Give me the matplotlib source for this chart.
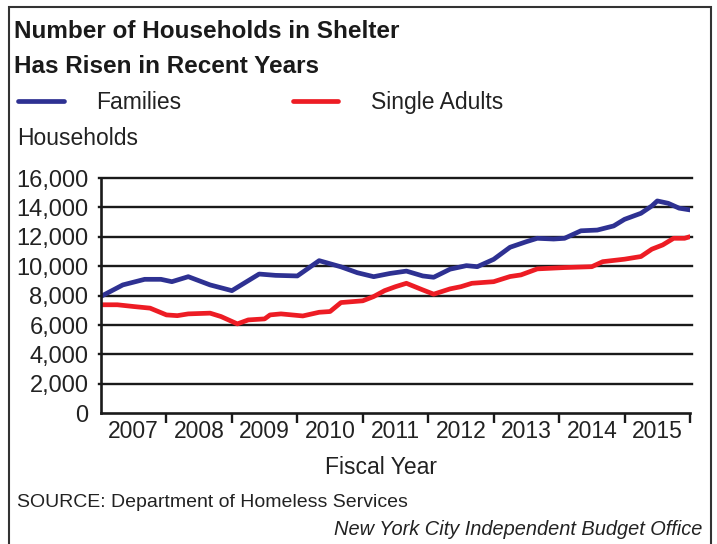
import matplotlib
matplotlib.use("Agg")
import matplotlib.pyplot as plt
from matplotlib.patches import Rectangle
import numpy as np

plt.rcParams['font.family'] = ['Liberation Sans', 'DejaVu Sans']

# month offsets from start of FY2007 (July 2006)
fam_months = [0, 4, 8, 11, 13, 16, 20, 24, 29, 32, 36, 40, 44, 47, 50, 53, 56, 59, 61,
              64, 67, 69, 72, 75, 78, 80, 83, 85, 88, 91, 94, 96, 99, 101, 102, 104, 106, 108]
families = [7950, 8730, 9110, 9110, 8950, 9290, 8730, 8340, 9470, 9380, 9340, 10380, 9960,
            9560, 9290, 9510, 9670, 9340, 9250, 9800, 10040, 9970, 10470, 11290, 11670, 11900,
            11850, 11900, 12410, 12460, 12740, 13190, 13600, 14100, 14440, 14280, 13950, 13830]

adu_months = [0, 3, 6, 9, 12, 14, 16, 20, 22, 25, 27, 30, 31, 33, 37, 40, 42, 44, 48, 50, 52,
              54, 56, 59, 61, 64, 66, 68, 72, 75, 77, 80, 85, 90, 92, 96, 99, 101, 103, 105, 107, 108]
single_adults = [7380, 7380, 7260, 7150, 6690, 6640, 6760, 6810, 6580, 6080, 6350, 6420, 6690,
                 6760, 6620, 6870, 6920, 7530, 7650, 7940, 8340, 8610, 8840, 8390, 8100, 8460,
                 8610, 8840, 8950, 9300, 9410, 9820, 9910, 9970, 10310, 10480, 10660, 11160,
                 11450, 11900, 11900, 12010]

years = ['2007', '2008', '2009', '2010', '2011', '2012', '2013', '2014', '2015']
yticks = [0, 2000, 4000, 6000, 8000, 10000, 12000, 14000, 16000]

W, H = 717, 544
fig = plt.figure(figsize=(W / 100, H / 100), dpi=100)

def fx(px):
    return px / W

def fy(py):
    return 1 - py / H

ax = fig.add_axes([fx(101), fy(413.3), fx(690) - fx(101), fy(178) - fy(413.3)])

l1, = ax.plot(np.array(fam_months) / 12, families, color='#2E3192', lw=3.4,
              solid_joinstyle='round', solid_capstyle='round', label='Families')
l2, = ax.plot(np.array(adu_months) / 12, single_adults, color='#ED1C24', lw=3.4,
              solid_joinstyle='round', solid_capstyle='round', label='Single Adults')

ax.set_xlim(0, 9)
ax.set_ylim(0, 16000)
ax.set_yticks(yticks)
ax.set_yticklabels([f'{v:,}' for v in yticks], fontsize=17, color='#222222')
ax.tick_params(axis='y', length=0, pad=9)
for v in yticks[1:]:
    ax.axhline(v, color='#1a1a1a', lw=1.7, zorder=1, xmin=-0.003, xmax=1.004, clip_on=False)

ax.set_xticks(np.arange(1, 10))
ax.set_xticklabels([])
ax.set_xticks(np.arange(0.5, 9, 1), minor=True)
ax.set_xticklabels(years, minor=True, fontsize=16.5, color='#222222')
ax.tick_params(axis='x', which='major', direction='out', length=7, width=1.7, color='#1a1a1a')
ax.tick_params(axis='x', which='minor', length=0, pad=5)

for s in ['top', 'right']:
    ax.spines[s].set_visible(False)
for s in ['left', 'bottom']:
    ax.spines[s].set_linewidth(1.9)
    ax.spines[s].set_color('#1a1a1a')

fig.text(fx(381), fy(474), 'Fiscal Year', fontsize=16.5, ha='center', va='baseline', color='#222222')

fig.text(fx(14), fy(38), 'Number of Households in Shelter', fontsize=17.5, fontweight='bold',
         va='baseline', color='#1a1a1a')
fig.text(fx(14), fy(73), 'Has Risen in Recent Years', fontsize=17.5, fontweight='bold',
         va='baseline', color='#1a1a1a')
fig.text(fx(17), fy(145), 'Households', fontsize=16.5, va='baseline', color='#222222')

fig.legend(handles=[l1, l2], loc='upper left', bbox_to_anchor=(fx(18), fy(91)), ncol=2,
           frameon=False, fontsize=16.5, handlelength=2.0, handletextpad=1.42,
           columnspacing=4.85, borderpad=0, borderaxespad=0, labelcolor='#222222')

fig.text(fx(17), fy(507), 'SOURCE: Department of Homeless Services', fontsize=14,
         va='baseline', color='#222222')
fig.text(fx(702), fy(535), 'New York City Independent Budget Office', fontsize=14.4,
         style='italic', ha='right', va='baseline', color='#222222')

fig.patches.append(Rectangle((fx(9), -0.02), fx(711) - fx(9), fy(7) + 0.02,
                             transform=fig.transFigure, fill=False, edgecolor='#333333', lw=1.5))

fig.savefig('out.png', dpi=100)
